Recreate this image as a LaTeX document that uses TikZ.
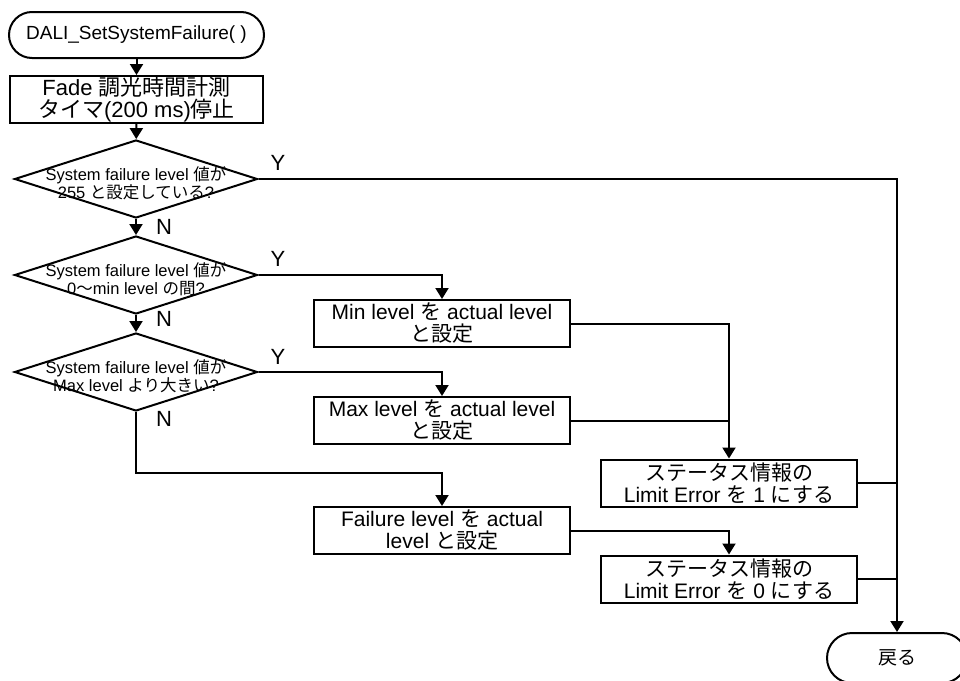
\documentclass[tikz,border=0pt]{standalone}
\usepackage{fontspec}
\setmainfont{Liberation Sans}
\newfontfamily\jpfont{Noto Sans CJK JP}
\newcommand\J[1]{{\jpfont #1}}
\usetikzlibrary{shapes.geometric,arrows.meta}

\begin{document}
\begin{tikzpicture}[x=1pt,y=-1pt,
  line/.style={line width=2pt},
  arr/.style={line, -{Triangle[length=11pt,width=13pt]}},
  box/.style={draw, line width=2pt, minimum width=256pt, minimum height=47pt,
    inner sep=0pt, align=center, font=\fontsize{21}{22}\selectfont},
  term/.style={draw, line width=2pt, minimum height=46pt, inner sep=0pt,
    font=\fontsize{19}{20}\selectfont},
  dec/.style={draw, diamond, aspect=3.1, line width=2pt, minimum width=243pt,
    minimum height=78pt, inner sep=0pt},
  dtext/.style={align=center, font=\fontsize{16.5}{18}\selectfont},
  yn/.style={font=\fontsize{22}{22}\selectfont}]

\useasboundingbox (0,0) rectangle (960,680);

\begin{scope}
\clip (0,0) rectangle (960,680);

% start / end terminals
\node[term, minimum width=255pt, rounded corners=23pt] (start) at (136.5,35) {DALI\_SetSystemFailure( )};
\node[term, minimum width=140pt, minimum height=50pt, rounded corners=25pt] (ret) at (897,658) {\J{戻る}};

% timer stop
\node[box, minimum width=253pt, font=\fontsize{22}{22}\selectfont] (fade) at (136.5,99.5)
  {Fade \J{調光時間計測}\\\J{タイマ}(200 ms)\J{停止}};

% decisions
\node[dec] (d1) at (136,179) {};
\node[dtext] (d1t) at (136,183) {System failure level \J{値が}\\255 \J{と設定している}?};
\node[dec] (d2) at (136,275) {};
\node[dtext] (d2t) at (136,279) {System failure level \J{値が}\\0\J{〜}min level \J{の間}?};
\node[dec] (d3) at (136,372) {};
\node[dtext] (d3t) at (136,376) {System failure level \J{値が}\\Max level \J{より大きい}?};

% actions
\node[box] (minb) at (442,323.5) {Min level \J{を} actual level\\\J{と設定}};
\node[box] (maxb) at (442,420.5) {Max level \J{を} actual level\\\J{と設定}};
\node[box] (fail) at (442,530.5) {Failure level \J{を} actual\\level \J{と設定}};
\node[box] (lim1) at (729,483) {\J{ステータス情報の}\\Limit Error \J{を} 1 \J{にする}};
\node[box] (lim0) at (729,579) {\J{ステータス情報の}\\Limit Error \J{を} 0 \J{にする}};

% branch labels
\node[yn] (y1) at (278,163) {Y};
\node[yn] (y2) at (278,259) {Y};
\node[yn] (y3) at (278,357) {Y};
\node[yn] (n1) at (164,227) {N};
\node[yn] (n2) at (164,319) {N};
\node[yn] (n3) at (164,419) {N};

\coordinate (j3) at (136,473);

% connectors
\draw[arr] (start) -- (fade);
\draw[arr] (fade) -- (d1);
\draw[arr] (d1) -- (d2);
\draw[arr] (d2) -- (d3);
\draw[arr] (d1.east) -| (ret.north);
\draw[arr] (d2.east) -| (minb.north);
\draw[arr] (d3.east) -| (maxb.north);
\draw[arr] (d3.south) -- (j3) -| (fail.north);
\draw[arr] (minb.east) -| (lim1.north);
\draw[line] (maxb.east) -- (maxb.east -| lim1.north);
\draw[arr] (fail.east) -| (lim0.north);
\draw[line] (lim1.east) -- (lim1.east -| ret.north);
\draw[line] (lim0.east) -- (lim0.east -| ret.north);
\end{scope}
\end{tikzpicture}
\end{document}
